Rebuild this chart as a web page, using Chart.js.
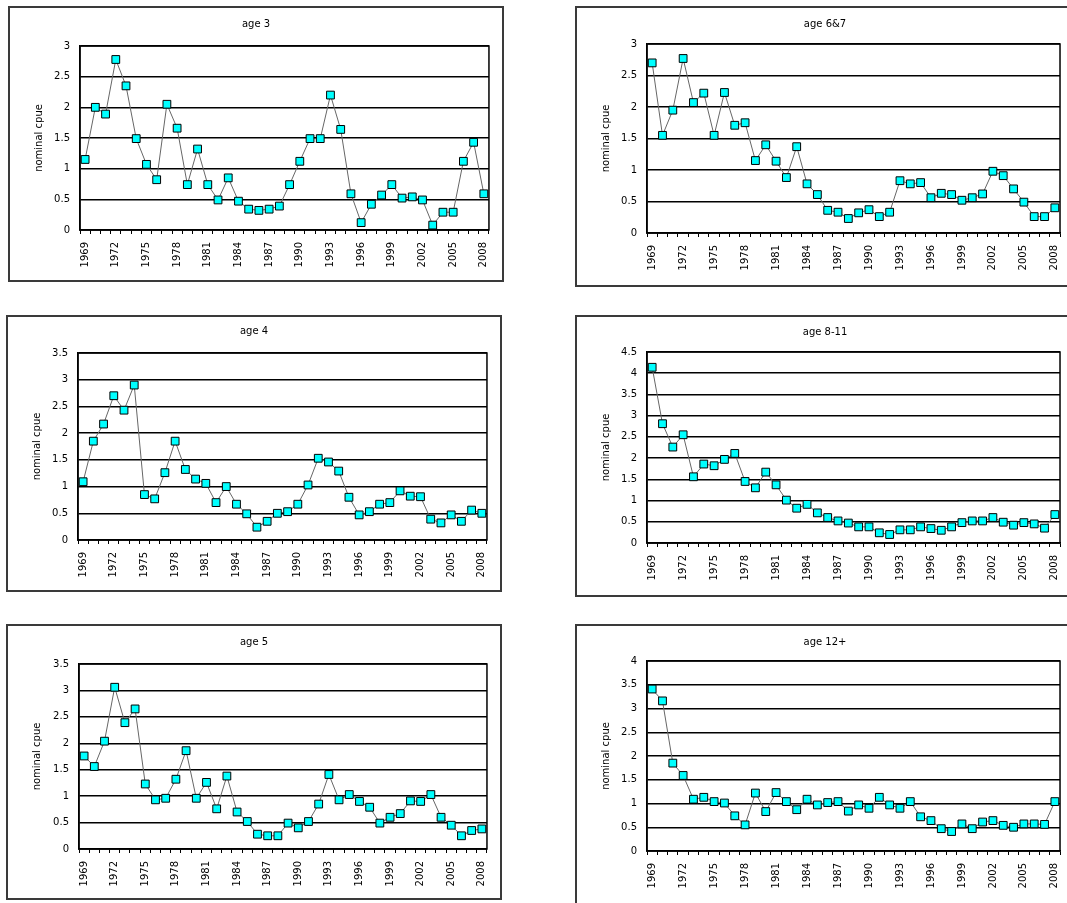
<!DOCTYPE html>
<html>
<head>
<meta charset="utf-8">
<script src="https://cdn.jsdelivr.net/npm/chart.js@4.4.1/dist/chart.umd.min.js"></script>
<style>
  html, body { margin: 0; padding: 0; background: #fff; overflow: hidden; }
  body { width: 1067px; height: 903px; position: relative; }
  .frame { position: absolute; box-sizing: border-box; border: 2px solid #3a3a3a; }
  canvas { position: absolute; }
</style>
</head>
<body>
<script>
const years = [];
for (let y = 1969; y <= 2008; y++) years.push(String(y));

const age3 = [1.15, 2.0, 1.89, 2.78, 2.35, 1.49, 1.07, 0.82, 2.05, 1.66,
  0.74, 1.32, 0.74, 0.49, 0.85, 0.47, 0.34, 0.32, 0.34, 0.39,
  0.74, 1.12, 1.49, 1.49, 2.2, 1.64, 0.59, 0.12, 0.42, 0.57,
  0.74, 0.52, 0.54, 0.49, 0.08, 0.29, 0.29, 1.12, 1.43, 0.59];

const age67 = [2.70, 1.55, 1.95, 2.77, 2.07, 2.22, 1.55, 2.23, 1.71, 1.75,
  1.15, 1.40, 1.14, 0.88, 1.37, 0.78, 0.61, 0.36, 0.33, 0.23,
  0.32, 0.37, 0.26, 0.33, 0.83, 0.78, 0.80, 0.56, 0.63, 0.61,
  0.52, 0.56, 0.62, 0.98, 0.91, 0.70, 0.49, 0.26, 0.26, 0.40];

const age4 = [1.09, 1.85, 2.17, 2.70, 2.43, 2.90, 0.85, 0.77, 1.26, 1.85,
  1.32, 1.14, 1.06, 0.70, 1.00, 0.67, 0.49, 0.24, 0.35, 0.50,
  0.53, 0.67, 1.03, 1.53, 1.46, 1.29, 0.80, 0.47, 0.53, 0.67,
  0.70, 0.92, 0.82, 0.81, 0.39, 0.32, 0.47, 0.35, 0.56, 0.50];

const age811 = [4.14, 2.81, 2.26, 2.55, 1.56, 1.86, 1.82, 1.97, 2.11, 1.45,
  1.30, 1.67, 1.37, 1.01, 0.82, 0.91, 0.71, 0.60, 0.52, 0.47,
  0.38, 0.38, 0.24, 0.20, 0.31, 0.31, 0.38, 0.34, 0.30, 0.38,
  0.48, 0.52, 0.52, 0.60, 0.49, 0.42, 0.48, 0.45, 0.35, 0.67];

const age5 = [1.76, 1.56, 2.04, 3.06, 2.39, 2.65, 1.23, 0.93, 0.96, 1.32,
  1.86, 0.96, 1.26, 0.76, 1.38, 0.70, 0.52, 0.28, 0.25, 0.25,
  0.49, 0.40, 0.52, 0.85, 1.41, 0.93, 1.03, 0.90, 0.79, 0.49,
  0.60, 0.67, 0.91, 0.90, 1.03, 0.60, 0.45, 0.25, 0.35, 0.38];

const age12 = [3.41, 3.16, 1.85, 1.59, 1.09, 1.13, 1.04, 1.01, 0.74, 0.55,
  1.22, 0.83, 1.23, 1.04, 0.87, 1.09, 0.97, 1.02, 1.04, 0.84,
  0.97, 0.90, 1.13, 0.97, 0.90, 1.04, 0.72, 0.64, 0.47, 0.41,
  0.57, 0.47, 0.61, 0.64, 0.54, 0.50, 0.57, 0.57, 0.56, 1.04];

const yTitle = 'nominal cpue';

// box = [left, top, right, bottom], plot = [left, top, right, bottom] in page pixels
const panels = [
  { title: 'age 3',    data: age3,  max: 3,   box: [8, 6, 504, 282],     plot: [80, 46, 491, 230],   titleY: 24 },
  { title: 'age 6&7',  data: age67, max: 3,   box: [575, 6, 1075, 287],  plot: [647, 44, 1063, 233], titleY: 24 },
  { title: 'age 4',    data: age4,  max: 3.5, box: [6, 315, 502, 592],   plot: [78, 353, 490, 540],  titleY: 331 },
  { title: 'age 8-11', data: age811, max: 4.5, box: [575, 315, 1075, 597], plot: [647, 352, 1063, 543], titleY: 332 },
  { title: 'age 5',    data: age5,  max: 3.5, box: [6, 624, 502, 900],   plot: [79, 664, 491, 849],  titleY: 642 },
  { title: 'age 12+',  data: age12, max: 4,   box: [575, 624, 1075, 910], plot: [647, 661, 1064, 851], titleY: 642 }
];

const FONT = 'DejaVu Sans, Verdana, sans-serif';

const framePlugin = {
  id: 'plotFrame',
  beforeDatasetsDraw(chart) {
    const a = chart.chartArea;
    const ctx = chart.ctx;
    ctx.save();
    ctx.strokeStyle = '#000';
    ctx.lineWidth = 1.5;
    ctx.strokeRect(a.left, a.top, a.right - a.left, a.bottom - a.top);
    ctx.restore();
  }
};

panels.forEach(p => {
  const [bx, by, br, bb] = p.box;
  const [pl, pt, pr, pb] = p.plot;
  const w = br - bx, h = bb - by;

  const frame = document.createElement('div');
  frame.className = 'frame';
  frame.style.left = bx + 'px';
  frame.style.top = by + 'px';
  frame.style.width = w + 'px';
  frame.style.height = h + 'px';
  document.body.appendChild(frame);

  const canvas = document.createElement('canvas');
  canvas.width = w;
  canvas.height = h;
  canvas.style.left = bx + 'px';
  canvas.style.top = by + 'px';
  document.body.appendChild(canvas);

  const titlePadTop = (p.titleY - by) - 6;
  const titlePadBottom = (pt - by) - titlePadTop - 12;

  new Chart(canvas.getContext('2d'), {
    type: 'line',
    data: {
      labels: years,
      datasets: [{
        data: p.data,
        borderColor: '#666',
        borderWidth: 1,
        pointStyle: 'rect',
        pointRadius: 5.5,
        pointBackgroundColor: '#00ffff',
        pointBorderColor: '#000',
        pointBorderWidth: 1,
        tension: 0,
        fill: false
      }]
    },
    options: {
      responsive: false,
      animation: false,
      devicePixelRatio: 1,
      layout: { padding: 0 },
      plugins: {
        legend: { display: false },
        tooltip: { enabled: false },
        title: {
          display: true,
          text: p.title,
          color: '#000',
          font: { family: FONT, size: 10, weight: 'normal' },
          padding: { top: titlePadTop, bottom: titlePadBottom }
        }
      },
      scales: {
        x: {
          offset: true,
          grid: {
            offset: true,
            drawOnChartArea: false,
            drawTicks: true,
            tickLength: 4,
            color: '#000',
            lineWidth: 1
          },
          border: { display: true, color: '#000', width: 1.5 },
          ticks: {
            autoSkip: false,
            minRotation: 90,
            maxRotation: 90,
            padding: 8,
            color: '#000',
            font: { family: FONT, size: 10 },
            callback: (v, i) => (i % 3 === 0 ? years[i] : '')
          },
          afterFit: s => { s.height = bb - pb; }
        },
        y: {
          min: 0,
          max: p.max,
          grid: { color: '#000', lineWidth: 1.5, drawTicks: false },
          border: { display: true, color: '#000', width: 1.5 },
          ticks: {
            stepSize: 0.5,
            padding: 10,
            color: '#000',
            font: { family: FONT, size: 10 },
            callback: v => String(v)
          },
          title: {
            display: true,
            text: yTitle,
            color: '#000',
            font: { family: FONT, size: 10 },
            padding: { top: 25, bottom: 0 }
          },
          afterFit: s => { s.width = pl - bx; }
        },
        y2: {
          position: 'right',
          display: true,
          grid: { display: false },
          border: { display: false },
          ticks: { display: false },
          afterFit: s => { s.width = br - pr; }
        }
      }
    },
    plugins: [framePlugin]
  });
});
</script>
</body>
</html>
